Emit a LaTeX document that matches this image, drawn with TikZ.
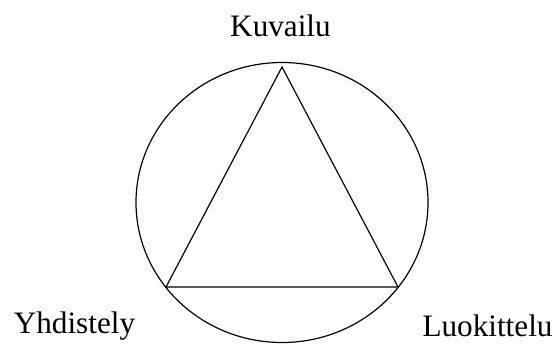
\documentclass[tikz,border=0pt]{standalone}
\usepackage{fontspec}
\setmainfont{Liberation Serif}
\begin{document}
\begin{tikzpicture}[x=0.5pt,y=-0.5pt,
  dpicline/.style={line width=0.6pt},
  lbl/.style={anchor=base,inner sep=0pt,font=\fontsize{15.6}{18}\selectfont}]%
\useasboundingbox (0,0) rectangle (556,343);
\coordinate (ctr) at (282,202.5);
\coordinate (apex) at (282,67);
\coordinate (lft) at (166,287);
\coordinate (rgt) at (398,287);
\draw[dpicline] (ctr) ellipse [x radius=73pt, y radius=70pt];
\draw[dpicline] (apex) -- (rgt) -- (lft) -- cycle;
\node[lbl] (kuv) at (280.5,36) {Kuvailu};
\node[lbl] (yhd) at (74.5,333) {Yhdistely};
\node[lbl] (luo) at (487.5,336.7) {Luokittelu};
\end{tikzpicture}
\end{document}
